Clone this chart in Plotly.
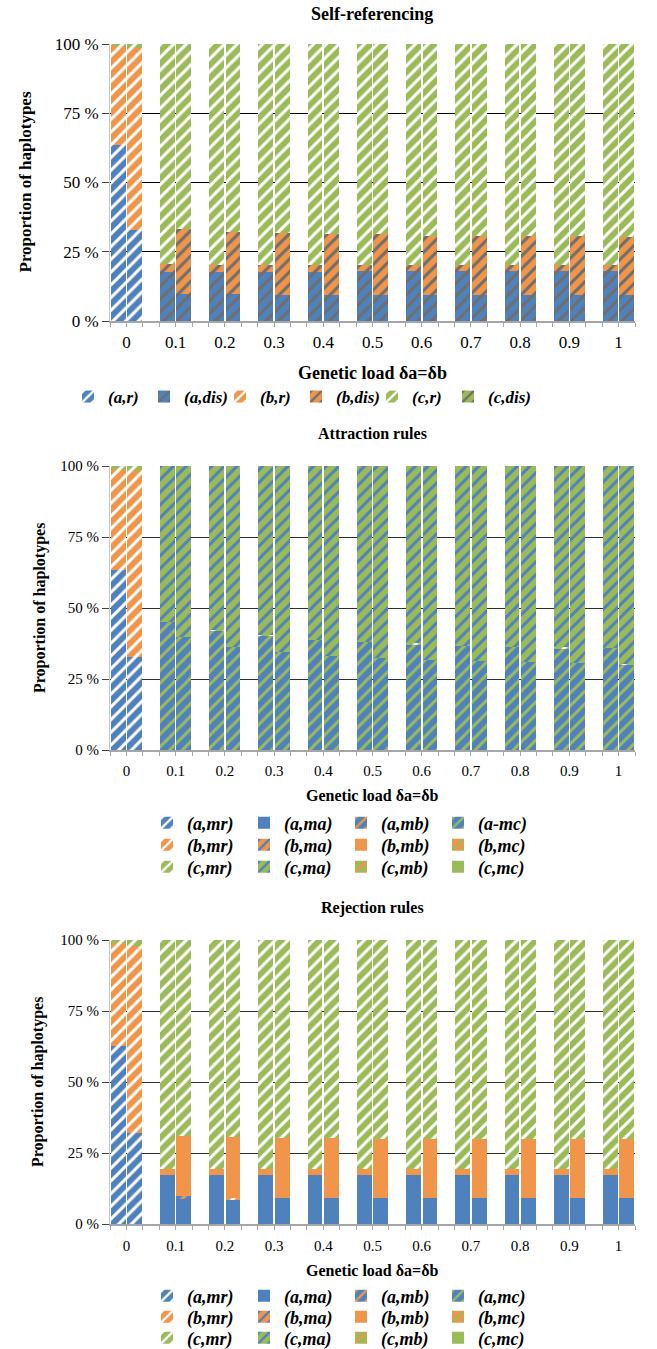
import plotly.graph_objects as go

W, H = 657, 1349

# ---------------- data ----------------
categories = ["0", "0.1", "0.2", "0.3", "0.4", "0.5", "0.6", "0.7", "0.8", "0.9", "1"]
y_tickvals = [0, 25, 50, 75, 100]
y_ticktext = ["0 %", "25 %", "50 %", "75 %", "100 %"]

NONE = [0, 0, 0, 0, 0, 0, 0, 0, 0, 0, 0]

# Panel 1 : Self-referencing  (left bar, right bar of each genetic-load value)
self_a_r_left = [63.5, 0, 0, 0, 0, 0, 0, 0, 0, 0, 0]
self_a_r_right = [32.9, 0, 0, 0, 0, 0, 0, 0, 0, 0, 0]
self_a_dis_left = [0, 17.8, 17.8, 17.8, 17.8, 17.9, 18.0, 18.0, 18.0, 18.0, 18.0]
self_a_dis_right = [0, 9.8, 9.6, 9.5, 9.5, 9.4, 9.4, 9.4, 9.4, 9.4, 9.4]
self_b_r_left = [35.8, 0, 0, 0, 0, 0, 0, 0, 0, 0, 0]
self_b_r_right = [65.8, 0, 0, 0, 0, 0, 0, 0, 0, 0, 0]
self_b_dis_left = [0, 2.6, 2.5, 2.5, 2.5, 2.4, 2.3, 2.3, 2.3, 2.3, 2.3]
self_b_dis_right = [0, 23.3, 22.4, 22.1, 21.8, 21.9, 21.4, 21.4, 21.4, 21.4, 21.0]
self_c_r_left = [0.7, 79.6, 79.7, 79.7, 79.7, 79.7, 79.7, 79.7, 79.7, 79.7, 79.7]
self_c_r_right = [1.3, 66.9, 68.0, 68.4, 68.7, 68.7, 69.2, 69.2, 69.2, 69.2, 69.6]
self_c_dis_left = NONE
self_c_dis_right = NONE

# Panel 2 : Attraction rules
attr_a_mr_left = [63.4, 0, 0, 0, 0, 0, 0, 0, 0, 0, 0]
attr_a_mr_right = [32.6, 0, 0, 0, 0, 0, 0, 0, 0, 0, 0]
attr_a_mc_left = [0, 45.2, 42.0, 40.3, 38.8, 37.9, 37.3, 36.7, 36.4, 35.9, 35.9]
attr_a_mc_right = [0, 39.7, 36.2, 34.5, 33.2, 32.3, 31.6, 31.5, 30.9, 30.5, 30.0]
attr_b_mr_left = [35.5, 0, 0, 0, 0, 0, 0, 0, 0, 0, 0]
attr_b_mr_right = [65.7, 0, 0, 0, 0, 0, 0, 0, 0, 0, 0]
attr_c_mr_left = [1.1, 0, 0.3, 0.3, 0, 0, 0.3, 0, 0, 0.3, 0]
attr_c_mr_right = [1.7, 0, 0, 0, 0, 0, 0, 0, 0, 0, 0.4]
attr_c_ma_left = [0, 54.8, 57.7, 59.4, 61.2, 62.1, 62.4, 63.3, 63.6, 63.8, 64.1]
attr_c_ma_right = [0, 60.3, 63.8, 65.5, 66.8, 67.7, 68.4, 68.5, 69.1, 69.5, 69.6]

# Panel 3 : Rejection rules
rej_a_mr_left = [62.6, 0, 0, 0, 0, 0, 0, 0, 0, 0, 0]
rej_a_mr_right = [32.2, 0, 0, 0, 0, 0, 0, 0, 0, 0, 0]
rej_a_ma_left = [0, 17.4, 17.4, 17.4, 17.4, 17.4, 17.4, 17.4, 17.4, 17.4, 17.4]
rej_a_ma_right = [0, 9.0, 8.8, 9.0, 9.0, 9.0, 9.0, 9.0, 9.0, 9.0, 9.0]
rej_a_mb_right = [0, 0.7, 0, 0, 0, 0, 0, 0, 0, 0, 0]
rej_b_mr_left = [36.2, 0, 0, 0, 0, 0, 0, 0, 0, 0, 0]
rej_b_mr_right = [65.7, 0, 0.4, 0, 0, 0, 0, 0, 0, 0, 0]
rej_b_mb_left = [0, 1.8, 1.8, 1.8, 1.8, 1.8, 1.8, 1.8, 1.8, 1.8, 1.8]
rej_b_mb_right = [0, 21.3, 21.5, 21.3, 21.3, 21.0, 21.0, 21.0, 21.0, 21.0, 21.0]
rej_c_mr_left = [1.2, 80.8, 80.8, 80.8, 80.8, 80.8, 80.8, 80.8, 80.8, 80.8, 80.8]
rej_c_mr_right = [2.1, 69.0, 69.3, 69.7, 69.7, 70.0, 70.0, 70.0, 70.0, 70.0, 70.0]

self_series = [
    ("(a,r)", self_a_r_left, self_a_r_right),
    ("(a,dis)", self_a_dis_left, self_a_dis_right),
    ("(b,r)", self_b_r_left, self_b_r_right),
    ("(b,dis)", self_b_dis_left, self_b_dis_right),
    ("(c,r)", self_c_r_left, self_c_r_right),
    ("(c,dis)", self_c_dis_left, self_c_dis_right),
]
attr_series = [
    ("(a,mr)", attr_a_mr_left, attr_a_mr_right),
    ("(a,ma)", NONE, NONE),
    ("(a,mb)", NONE, NONE),
    ("(a-mc)", attr_a_mc_left, attr_a_mc_right),
    ("(b,mr)", attr_b_mr_left, attr_b_mr_right),
    ("(b,ma)", NONE, NONE),
    ("(b,mb)", NONE, NONE),
    ("(b,mc)", NONE, NONE),
    ("(c,mr)", attr_c_mr_left, attr_c_mr_right),
    ("(c,ma)", attr_c_ma_left, attr_c_ma_right),
    ("(c,mb)", NONE, NONE),
    ("(c,mc)", NONE, NONE),
]
rej_series = [
    ("(a,mr)", rej_a_mr_left, rej_a_mr_right),
    ("(a,ma)", rej_a_ma_left, rej_a_ma_right),
    ("(a,mb)", NONE, rej_a_mb_right),
    ("(a,mc)", NONE, NONE),
    ("(b,mr)", rej_b_mr_left, rej_b_mr_right),
    ("(b,ma)", NONE, NONE),
    ("(b,mb)", rej_b_mb_left, rej_b_mb_right),
    ("(b,mc)", NONE, NONE),
    ("(c,mr)", rej_c_mr_left, rej_c_mr_right),
    ("(c,ma)", NONE, NONE),
    ("(c,mb)", NONE, NONE),
    ("(c,mc)", NONE, NONE),
]

# ---------------- styles ----------------
BLUE, ORANGE, GREEN = "#4f81bd", "#f0954a", "#9bbb59"
WHITE, GRAY = "#ffffff", "#6e6e6e"
base_col = {"a": BLUE, "b": ORANGE, "c": GREEN}
stripe_col = {"r": WHITE, "mr": WHITE, "dis": GRAY, "ma": BLUE, "mb": ORANGE, "mc": GREEN}


def style_of(name):
    inner = name.strip("()")
    hap = inner[0]
    kind = inner[2:]
    bg = base_col[hap]
    fg = stripe_col[kind]
    solid = (fg == bg)
    return bg, fg, solid


SERIF = "Liberation Serif"


def py(px):
    return 1 - px / H


def px_x(px):
    return px / W


panels = [
    dict(series=self_series, title="Self-referencing", top=44, bottom=321, title_y=14,
         xtitle_y=373, ylab_x=25, xtick_size=17, ytick_size=17, legend_rows=[(397, 0, 6)],
         legend_x=68, entry=31, grid="#000000", ylab_size=17, title_size=18, leg_size=17,
         standoff=5),
    dict(series=attr_series, title="Attraction rules", top=466, bottom=750, title_y=433,
         xtitle_y=795, ylab_x=40, xtick_size=15, ytick_size=15,
         legend_rows=[(823, 0, 4), (845, 4, 8), (867, 8, 12)],
         legend_x=147, entry=52, grid="#303030", ylab_size=16, title_size=16, leg_size=18,
         standoff=6),
    dict(series=rej_series, title="Rejection rules", top=940, bottom=1224, title_y=908,
         xtitle_y=1270, ylab_x=38, xtick_size=15, ytick_size=15,
         legend_rows=[(1296, 0, 4), (1317, 4, 8), (1338, 8, 12)],
         legend_x=147, entry=52, grid="#303030", ylab_size=16, title_size=16, leg_size=18,
         standoff=7),
]

n = len(categories)
left_slots = [3 * i for i in range(n)]
right_slots = [3 * i + 1 for i in range(n)]
label_pos = [3 * i + 0.5 for i in range(n)]

fig = go.Figure()
layout = dict(template="none", width=W, height=H, margin=dict(l=0, r=0, t=0, b=0, autoexpand=False),
              paper_bgcolor="white", plot_bgcolor="white", barmode="stack",
              bargap=0.1, showlegend=True, annotations=[],
              font=dict(family=SERIF, color="black"))

legend_counter = 0
for p_i, p in enumerate(panels):
    ax = "" if p_i == 0 else str(p_i + 1)
    row_keys = []
    for (ry, a, b) in p["legend_rows"]:
        legend_counter += 1
        key = "legend" if legend_counter == 1 else f"legend{legend_counter}"
        row_keys.append((key, a, b))
        layout[key] = dict(orientation="h", x=px_x(p["legend_x"]), xanchor="left",
                           y=py(ry), yanchor="middle", bgcolor="rgba(0,0,0,0)",
                           borderwidth=0, entrywidth=p["entry"], entrywidthmode="pixels",
                           font=dict(family=SERIF, size=p["leg_size"], color="black",
                                     weight="bold", style="italic"),
                           traceorder="normal", itemclick=False, itemdoubleclick=False)
    for s_i, (name, left, right) in enumerate(p["series"]):
        bg, fg, solid = style_of(name)
        lkey = [k for (k, a, b) in row_keys if a <= s_i < b][0]
        pattern = dict(shape="") if solid else dict(shape="/", fgcolor=fg, bgcolor=bg,
                                                       fillmode="replace", size=9, solidity=0.33)
        fig.add_trace(go.Bar(
            x=left_slots + right_slots, y=list(left) + list(right), name=name,
            marker=dict(color=bg, pattern=pattern, line=dict(width=0)),
            xaxis="x" + ax, yaxis="y" + ax, legend=lkey, hoverinfo="skip",
        ))
    # transparent spacer entry so the last legend label of each row is not clipped
    for (k, a, b) in row_keys:
        fig.add_trace(go.Bar(
            x=[None], y=[None], name="\u00a0", marker=dict(color="rgba(0,0,0,0)"),
            xaxis="x" + ax, yaxis="y" + ax, legend=k, hoverinfo="skip",
        ))
    layout["xaxis" + ax] = dict(
        domain=[px_x(110), px_x(635)], range=[-0.5, 31.5], anchor="y" + ax,
        tickmode="array", tickvals=label_pos, ticktext=categories, ticks="",
        ticklabelstandoff=p["standoff"],
        tickfont=dict(family=SERIF, size=p["xtick_size"], color="black"),
        showline=True, linecolor="#a6a6a6", linewidth=1.5, showgrid=False, zeroline=False,
        minor=dict(tickmode="linear", tick0=-0.5, dtick=1, ticks="outside", ticklen=4,
                   tickcolor="#a6a6a6", showgrid=False),
        automargin=False, fixedrange=True,
    )
    layout["yaxis" + ax] = dict(
        domain=[py(p["bottom"]), py(p["top"])], range=[0, 100], anchor="x" + ax,
        tickmode="array", tickvals=y_tickvals, ticktext=y_ticktext,
        ticks="outside", ticklen=7, tickcolor="#444444",
        tickfont=dict(family=SERIF, size=p["ytick_size"], color="black"),
        showgrid=True, gridcolor=p["grid"], gridwidth=1.3, zeroline=False,
        showline=True, linecolor="#c8c8c8", linewidth=1, automargin=False, fixedrange=True,
    )
    layout["annotations"] += [
        dict(text="<b>" + p["title"] + "</b>", x=px_x(372), y=py(p["title_y"]), xref="paper",
             yref="paper", showarrow=False, xanchor="center", yanchor="middle",
             font=dict(family=SERIF, size=p["title_size"], color="black")),
        dict(text="<b>Genetic load δa=δb</b>", x=px_x(372), y=py(p["xtitle_y"]), xref="paper",
             yref="paper", showarrow=False, xanchor="center", yanchor="middle",
             font=dict(family=SERIF, size=p["title_size"], color="black")),
        dict(text="<b>Proportion of haplotypes</b>", x=px_x(p["ylab_x"]),
             y=py((p["top"] + p["bottom"]) / 2), xref="paper", yref="paper", showarrow=False,
             textangle=-90, xanchor="center", yanchor="middle",
             font=dict(family=SERIF, size=p["ylab_size"], color="black")),
    ]

fig.update_layout(**layout)
fig.write_html("out.html", config={"displayModeBar": False},
               post_script="document.body.style.margin='0px';document.body.style.overflow='hidden';")
